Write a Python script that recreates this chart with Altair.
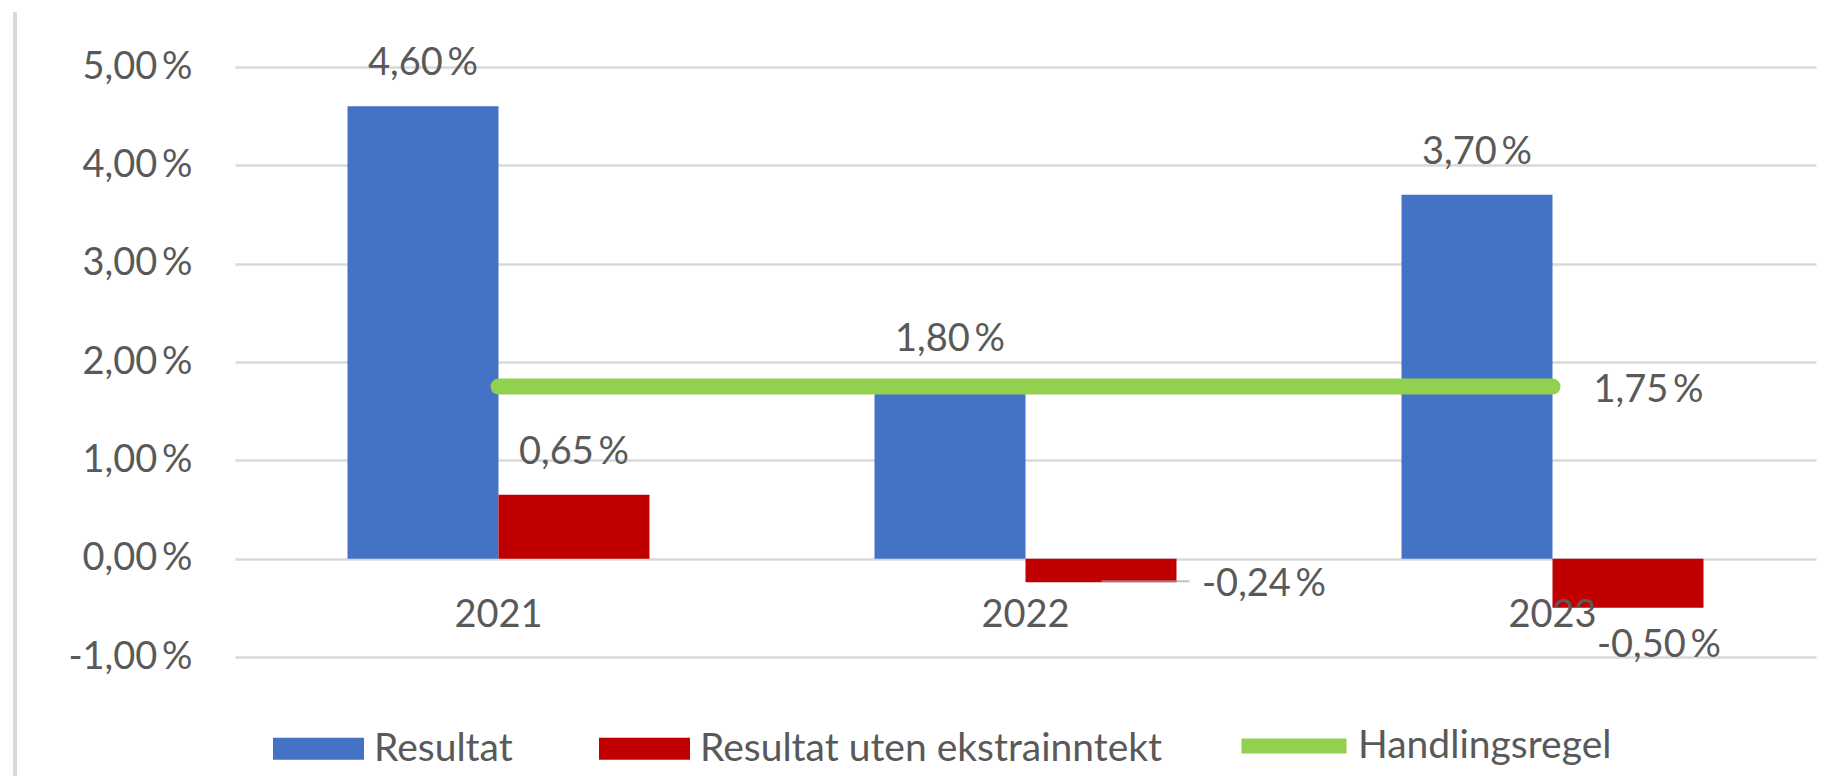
import altair as alt
import pandas as pd

# ---- data ----
years = ["2021", "2022", "2023"]
resultat = [4.60, 1.80, 3.70]
resultat_uten = [0.65, -0.24, -0.50]
handlingsregel = [1.75, 1.75, 1.75]
series = ["Resultat", "Resultat uten ekstrainntekt"]
rule_name = "Handlingsregel"
y_ticks = [-1, 0, 1, 2, 3, 4, 5]

rows = []
for i, yr in enumerate(years):
    rows.append({"year": yr, "serie": series[0], "value": resultat[i]})
    rows.append({"year": yr, "serie": series[1], "value": resultat_uten[i]})
bars_df = pd.DataFrame(rows)
line_df = pd.DataFrame({"year": years, "value": handlingsregel, "serie": [rule_name] * 3})

# ---- style ----
FONT = "Lato"
FS = 38
LFS = 39
TXT = "#595959"
BLUE, RED, GREEN = "#4472C4", "#C00000", "#92D050"
fmt = "replace(replace(format(datum.value, '.2f'), '.', ','), '\u2212', '-') + '\u2009%'"

x_enc = alt.X(
    "year:N", sort=years,
    scale=alt.Scale(paddingInner=0.427, paddingOuter=0.2135),
    axis=alt.Axis(title=None, domain=False, ticks=False, labelAngle=0, grid=False,
                  labelFont=FONT, labelFontSize=FS, labelColor=TXT,
                  labelPadding=38, offset=-98.33, zindex=1),
)
y_enc = alt.Y(
    "value:Q",
    scale=alt.Scale(domain=[-1, 5], nice=False, zero=False),
    axis=alt.Axis(values=y_ticks, title=None, domain=False, ticks=False,
                  labelExpr=fmt, labelFont=FONT, labelFontSize=FS, labelColor=TXT,
                  labelPadding=43, gridColor="#D9D9D9", gridWidth=2.5),
)
xo_enc = alt.XOffset("serie:N", sort=series, scale=alt.Scale(paddingInner=0, paddingOuter=0))

border = alt.Chart(bars_df).mark_rule(color="#D9D9D9", strokeWidth=3).encode(
    x=alt.value(-220), y=alt.value(-55), y2=alt.value(715)
)

bars = alt.Chart(bars_df).mark_bar(size=151).encode(
    x=x_enc, y=y_enc, xOffset=xo_enc,
    color=alt.Color(
        "serie:N",
        scale=alt.Scale(domain=series, range=[BLUE, RED]),
        legend=alt.Legend(
            title=None, orient="none", direction="horizontal",
            legendX=38, legendY=636,
            symbolType="M-1,-0.242H1V0.242H-1Z", symbolSize=8281,
            symbolStrokeWidth=0, symbolOpacity=1,
            labelFont=FONT, labelFontSize=LFS, labelColor=TXT,
            labelOffset=10, columnPadding=86, labelLimit=1000, padding=0,
        ),
    ),
)

line = alt.Chart(line_df).mark_line(strokeWidth=16, strokeCap="round").encode(
    x=x_enc, y=y_enc,
    color=alt.Color(
        "serie:N",
        scale=alt.Scale(domain=[rule_name], range=[GREEN]),
        legend=alt.Legend(
            title=None, orient="none", direction="horizontal",
            legendX=999, legendY=619,
            symbolType="stroke", symbolSize=11025, symbolStrokeWidth=15,
            labelFont=FONT, labelFontSize=LFS, labelColor=TXT,
            labelOffset=4, labelLimit=1000, padding=0,
        ),
    ),
)

lab_base = alt.Chart(bars_df).transform_calculate(label=fmt)

labels_top = lab_base.transform_filter("datum.value > 0").mark_text(
    font=FONT, fontSize=FS, color=TXT, baseline="alphabetic", align="center", dy=-31
).encode(x=x_enc, y=y_enc, xOffset=xo_enc, text="label:N")

labels_2022 = lab_base.transform_filter(
    f"datum.year == '2022' && datum.serie == '{series[1]}'"
).mark_text(
    font=FONT, fontSize=FS, color=TXT, baseline="alphabetic", align="left", dx=101, dy=14
).encode(x=x_enc, y=y_enc, xOffset=xo_enc, text="label:N")

leader = lab_base.transform_filter(
    f"datum.year == '2022' && datum.serie == '{series[1]}'"
).mark_tick(color="#A6A6A6", size=88, thickness=2, xOffset=120, yOffset=-1).encode(
    x=x_enc, y=y_enc
)

labels_2023 = lab_base.transform_filter(
    f"datum.year == '2023' && datum.serie == '{series[1]}'"
).mark_text(
    font=FONT, fontSize=FS, color=TXT, baseline="alphabetic", align="center", dx=31, dy=49
).encode(x=x_enc, y=y_enc, xOffset=xo_enc, text="label:N")

line_label = alt.Chart(line_df).transform_filter("datum.year == '2023'").transform_calculate(
    label=fmt
).mark_text(
    font=FONT, fontSize=FS, color=TXT, baseline="alphabetic", align="left", dx=41, dy=15
).encode(x=x_enc, y=y_enc, text="label:N")

chart = alt.layer(
    border, bars, line, leader, labels_top, labels_2022, labels_2023, line_label
).resolve_scale(color="independent").properties(
    width=1581, height=590,
    autosize=alt.AutoSizeParams(type="none"),
    padding={"left": 227, "top": 59, "right": 8, "bottom": 120},
    background="white",
).configure_view(stroke=None)

chart.save("out.html", embed_options={"renderer": "svg", "actions": False})
